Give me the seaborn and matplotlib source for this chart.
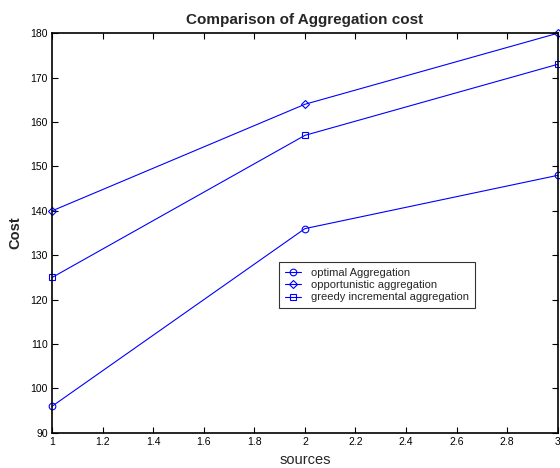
import pandas as pd
import matplotlib.pyplot as plt
import seaborn as sns

sources = [1, 2, 3]
optimal = [96, 136, 148]
opportunistic = [140, 164, 180]
greedy = [125, 157, 173]

series_names = ['optimal Aggregation', 'opportunistic aggregation', 'greedy incremental aggregation']
markers = ['o', 'D', 's']

df = pd.DataFrame({
    'sources': sources * 3,
    'Cost': optimal + opportunistic + greedy,
    'series': [n for n in series_names for _ in sources],
})

sns.set_style('white')
plt.rcParams['font.family'] = ['Liberation Sans', 'DejaVu Sans']

fig = plt.figure(figsize=(5.6, 4.68), dpi=100)
ax = fig.add_axes([0.093, 0.075, 0.903, 0.854])

for name, m in zip(series_names, markers):
    sub = df[df.series == name]
    sns.lineplot(data=sub, x='sources', y='Cost', ax=ax, color='blue', lw=0.8,
                 marker=m, markersize=4.8 if m != 'D' else 4.2, markerfacecolor='none',
                 markeredgecolor='blue', markeredgewidth=0.8, label=name, clip_on=False)

ax.set_xlim(1, 3)
ax.set_ylim(90, 180)
ax.set_xticks([1, 1.2, 1.4, 1.6, 1.8, 2, 2.2, 2.4, 2.6, 2.8, 3])
ax.set_xticklabels(['1', '1.2', '1.4', '1.6', '1.8', '2', '2.2', '2.4', '2.6', '2.8', '3'])
ax.set_yticks(range(90, 181, 10))
ax.tick_params(direction='in', length=4, width=0.8, labelsize=7.5, top=True, right=True,
               bottom=True, left=True, pad=3, colors='black')
for s in ax.spines.values():
    s.set_color('black')
    s.set_linewidth(1.2)

ax.set_title('Comparison of Aggregation cost', fontsize=11, fontweight='bold', pad=7)
ax.set_xlabel('sources', fontsize=10.5, labelpad=4)
ax.set_ylabel('Cost', fontsize=10.5, fontweight='bold', labelpad=6)

leg = ax.legend(loc='lower left', bbox_to_anchor=(0.449, 0.3125), fontsize=8,
                frameon=True, fancybox=False, edgecolor='black', borderpad=0.5,
                labelspacing=0.2, handlelength=1.5, handletextpad=0.9, borderaxespad=0)
leg.get_frame().set_linewidth(0.8)

fig.savefig('out.png', dpi=100)
